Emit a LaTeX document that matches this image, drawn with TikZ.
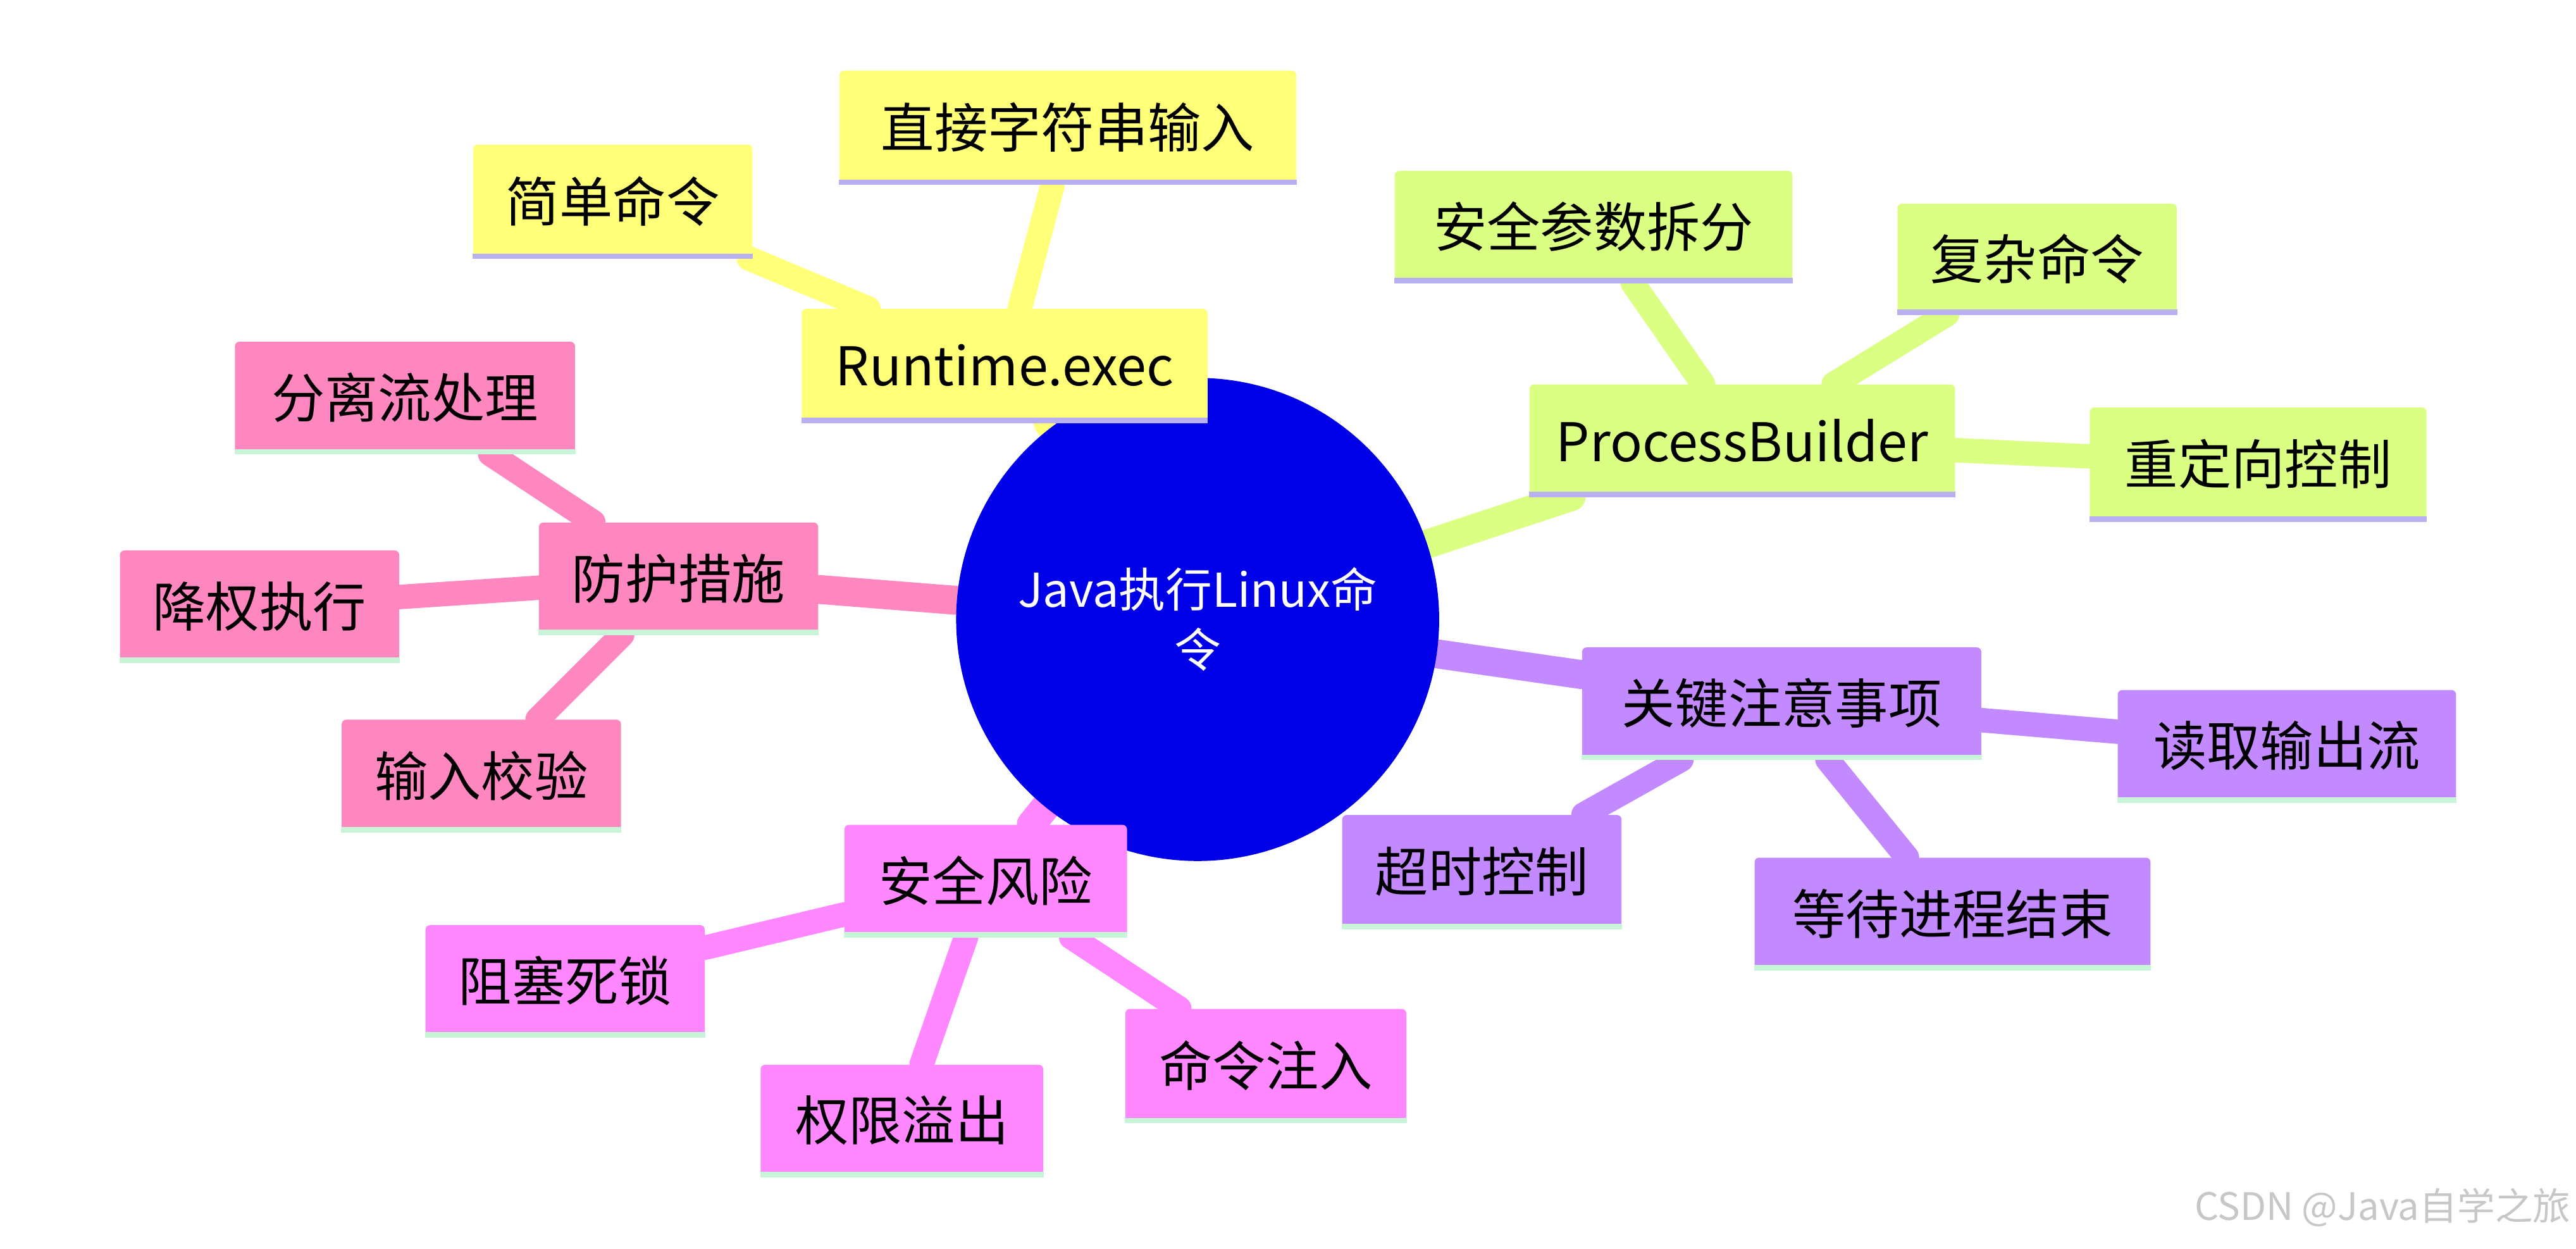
\documentclass[tikz,border=0pt]{standalone}
\usepackage{fontspec}
\setmainfont{Noto Sans CJK SC}
\pgfdeclarelayer{bg}\pgfsetlayers{bg,main}
\definecolor{cyy}{HTML}{FFFF78}
\definecolor{cgg}{HTML}{DAFF82}
\definecolor{cpp}{HTML}{C389FF}
\definecolor{cmg}{HTML}{FF87FF}
\definecolor{ckk}{HTML}{FF87C0}
\definecolor{lv}{HTML}{B8B0F0}
\definecolor{lg}{HTML}{C8F5D8}
\begin{document}
\begin{tikzpicture}[x=0.02597cm,y=-0.02597cm,
 bx/.style={rectangle,rounded corners=2pt,inner sep=0pt,font=\fontsize{24}{28}\selectfont},
 ed/.style={line width=11pt,line cap=round}]
\path[use as bounding box] (0,0) rectangle (1568,760);
\newcommand\bnode[7]{%
 \node[bx,fill=#6,minimum width={(#4-#2)*0.02597cm},minimum height={(#5-#3)*0.02597cm}] (#1) at ({(#2+#4)/2},{(#3+#5)/2}) {#7};}
\node[circle,fill={rgb,255:red,0;green,0;blue,232},minimum size={294*0.02597cm},text=white,align=center,font=\fontsize{21}{27}\selectfont] (c) at (729,377) {Java执行Linux命\\令};
\bnode{r}{488}{188}{735}{257}{cyy}{Runtime.exec}
\bnode{r1}{288}{88}{458}{157}{cyy}{简单命令}
\bnode{r2}{511}{43}{789}{112}{cyy}{直接字符串输入}
\bnode{p}{931}{234}{1190}{302}{cgg}{ProcessBuilder}
\bnode{p1}{849}{104}{1091}{172}{cgg}{安全参数拆分}
\bnode{p2}{1155}{124}{1325}{191}{cgg}{复杂命令}
\bnode{p3}{1272}{248}{1477}{317}{cgg}{重定向控制}
\bnode{k}{963}{394}{1206}{462}{cpp}{关键注意事项}
\bnode{k1}{1289}{420}{1495}{488}{cpp}{读取输出流}
\bnode{k2}{817}{496}{987}{565}{cpp}{超时控制}
\bnode{k3}{1068}{522}{1309}{590}{cpp}{等待进程结束}
\bnode{s}{514}{502}{686}{570}{cmg}{安全风险}
\bnode{s1}{259}{563}{429}{631}{cmg}{阻塞死锁}
\bnode{s2}{463}{648}{635}{716}{cmg}{权限溢出}
\bnode{s3}{685}{614}{856}{683}{cmg}{命令注入}
\bnode{f}{328}{318}{498}{386}{ckk}{防护措施}
\bnode{f1}{143}{208}{350}{276}{ckk}{分离流处理}
\bnode{f2}{73}{335}{243}{403}{ckk}{降权执行}
\bnode{f3}{208}{438}{378}{506}{ckk}{输入校验}
\foreach \n in {r,r1,r2,p,p1,p2,p3}{\draw[lv,line width=2.5pt]([yshift=1pt]\n.south west)--([yshift=1pt]\n.south east);}
\foreach \n in {k,k1,k2,k3,s,s1,s2,s3,f,f1,f2,f3}{\draw[lg,line width=2.5pt]([yshift=1pt]\n.south west)--([yshift=1pt]\n.south east);}
\begin{pgfonlayer}{bg}
\draw[cyy,ed,line width=13pt] (c)--(r);
\draw[cyy,ed] (r)--(r1); \draw[cyy,ed] (r)--(r2);
\draw[cgg,ed,line width=13pt] (c)--(p);
\draw[cgg,ed] (p)--(p1); \draw[cgg,ed] (p)--(p2); \draw[cgg,ed] (p)--(p3);
\draw[cpp,ed,line width=13pt] (c)--(k);
\draw[cpp,ed] (k)--(k1); \draw[cpp,ed] (k)--(k2); \draw[cpp,ed] (k)--(k3);
\draw[cmg,ed,line width=13pt] (c)--(s);
\draw[cmg,ed] (s)--(s1); \draw[cmg,ed] (s)--(s2); \draw[cmg,ed] (s)--(s3);
\draw[ckk,ed,line width=13pt] (c)--(f);
\draw[ckk,ed] (f)--(f1); \draw[ckk,ed] (f)--(f2); \draw[ckk,ed] (f)--(f3);
\end{pgfonlayer}
\node[anchor=east,text=black!22,font=\fontsize{17}{20}\selectfont,inner sep=0pt] (w) at (1565,735) {CSDN @Java自学之旅};
\end{tikzpicture}
\end{document}
